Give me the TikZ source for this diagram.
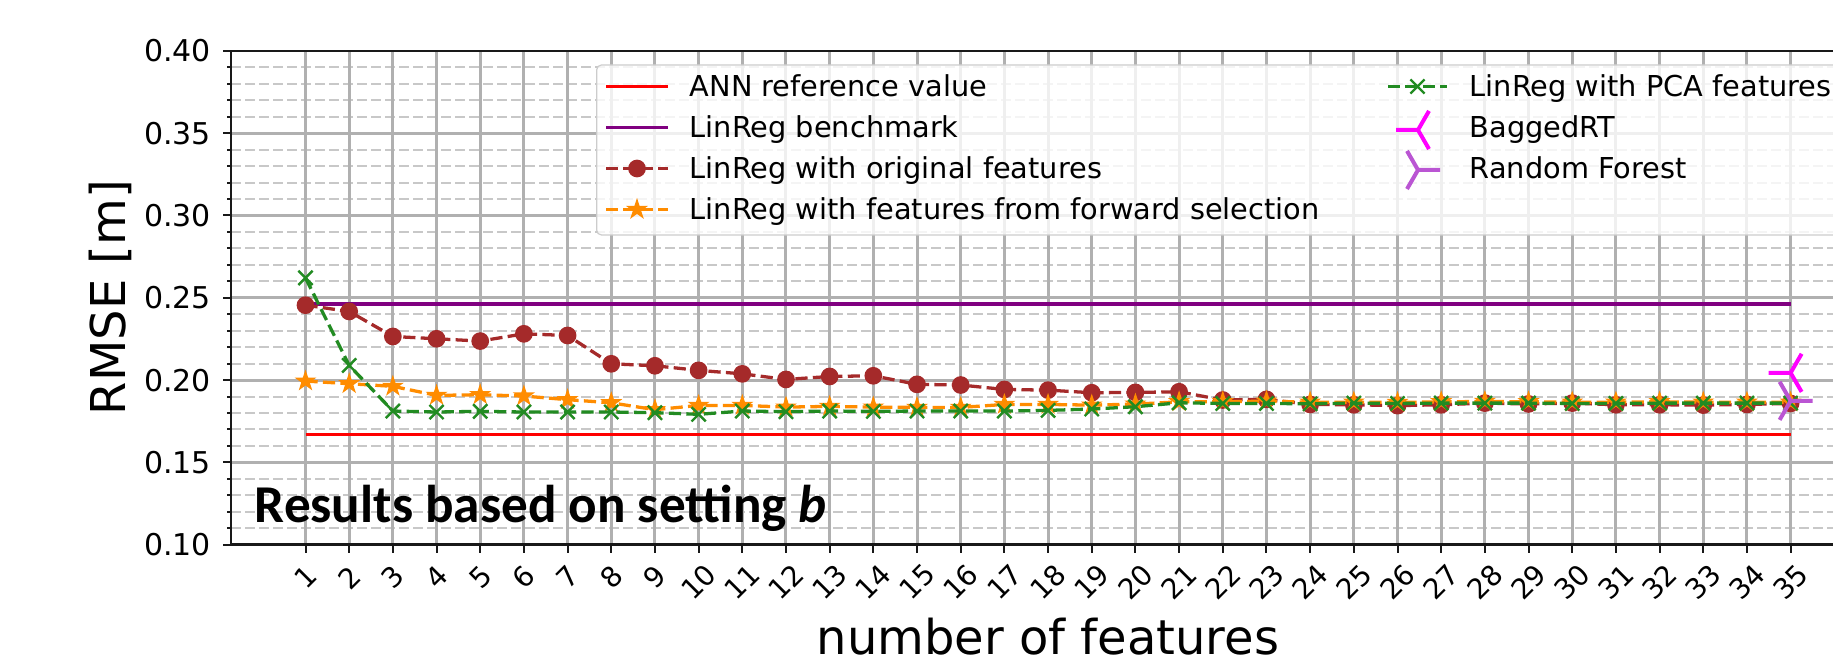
\documentclass[tikz,border=0pt]{standalone}
\usepackage{fontspec}
\setmainfont{DejaVu Sans}
\newfontfamily\notefont{Carlito}
\usepackage{tikz}
\usetikzlibrary{plotmarks}
\usepackage{xcolor}

\definecolor{annred}{HTML}{FF0000}
\definecolor{benchpurple}{HTML}{800080}
\definecolor{origbrown}{HTML}{A52A2A}
\definecolor{fwdorange}{HTML}{FF8C00}
\definecolor{pcagreen}{HTML}{228B22}
\definecolor{baggedmagenta}{HTML}{FF00FF}
\definecolor{rforchid}{HTML}{BA55D3}
\definecolor{gridgrey}{HTML}{B0B0B0}
\definecolor{minorgrey}{HTML}{C8C8C8}
\definecolor{frameedge}{HTML}{CCCCCC}

% filled five-pointed star and the two tri markers
\pgfdeclareplotmark{fivestar}{%
  \pgfpathmoveto{\pgfqpointpolar{90}{\pgfplotmarksize}}%
  \pgfpathlineto{\pgfqpointpolar{126}{0.382\pgfplotmarksize}}%
  \pgfpathlineto{\pgfqpointpolar{162}{\pgfplotmarksize}}%
  \pgfpathlineto{\pgfqpointpolar{198}{0.382\pgfplotmarksize}}%
  \pgfpathlineto{\pgfqpointpolar{234}{\pgfplotmarksize}}%
  \pgfpathlineto{\pgfqpointpolar{270}{0.382\pgfplotmarksize}}%
  \pgfpathlineto{\pgfqpointpolar{306}{\pgfplotmarksize}}%
  \pgfpathlineto{\pgfqpointpolar{342}{0.382\pgfplotmarksize}}%
  \pgfpathlineto{\pgfqpointpolar{18}{\pgfplotmarksize}}%
  \pgfpathlineto{\pgfqpointpolar{54}{0.382\pgfplotmarksize}}%
  \pgfpathclose\pgfusepathqfillstroke}
\pgfdeclareplotmark{trileft}{%
  \pgfpathmoveto{\pgfpointorigin}\pgfpathlineto{\pgfqpointpolar{180}{\pgfplotmarksize}}%
  \pgfpathmoveto{\pgfpointorigin}\pgfpathlineto{\pgfqpointpolar{60}{\pgfplotmarksize}}%
  \pgfpathmoveto{\pgfpointorigin}\pgfpathlineto{\pgfqpointpolar{300}{\pgfplotmarksize}}%
  \pgfusepathqstroke}
\pgfdeclareplotmark{triright}{%
  \pgfpathmoveto{\pgfpointorigin}\pgfpathlineto{\pgfqpointpolar{0}{\pgfplotmarksize}}%
  \pgfpathmoveto{\pgfpointorigin}\pgfpathlineto{\pgfqpointpolar{120}{\pgfplotmarksize}}%
  \pgfpathmoveto{\pgfpointorigin}\pgfpathlineto{\pgfqpointpolar{240}{\pgfplotmarksize}}%
  \pgfusepathqstroke}

\begin{document}
\begin{tikzpicture}[
  x=0.25pt, y=0.25pt,
  gridmajor/.style={gridgrey,line width=0.75pt},
  gridminor/.style={minorgrey,line width=0.5pt,dash pattern=on 2.5pt off 1pt},
  spine/.style={black!90,line width=0.6pt},
  tickmark/.style={black!90,line width=0.5pt},
  ticklabel/.style={inner sep=0pt,font=\fontsize{7.5}{9}\selectfont},
  xticklabel/.style={inner sep=0pt,rotate=45,font=\fontsize{7}{8.4}\selectfont},
  axislabel/.style={inner sep=0pt,font=\fontsize{12}{14}\selectfont},
  legtext/.style={anchor=base west,inner sep=0pt,font=\fontsize{7.2}{8.6}\selectfont},
  legframe/.style={draw=frameedge,line width=0.3pt,fill=white,fill opacity=0.8,rounded corners=1.2pt},
  solidline/.style={line width=0.82pt},
  seriesline/.style={line width=0.82pt,dash pattern=on 3.05pt off 1.32pt},
  annline/.style={solidline,annred},
  benchline/.style={solidline,benchpurple},
  origline/.style={seriesline,origbrown,mark=*,mark size=1.8pt,mark options={solid,fill=origbrown}},
  fwdline/.style={seriesline,fwdorange,mark=fivestar,mark size=2.4pt,mark options={solid,fill=fwdorange,line width=0.3pt}},
  pcaline/.style={seriesline,pcagreen,mark=x,mark size=2.5pt,mark options={solid,line width=0.6pt}},
  baggedmark/.style={baggedmagenta,line width=1pt,only marks,mark=trileft,mark size=5.5pt},
  rfmark/.style={rforchid,line width=1pt,only marks,mark=triright,mark size=5.5pt}
]
\useasboundingbox (0,0) rectangle (1833,661);
\clip (0,0) rectangle (1833,661);

% data axes: feature count along x, RMSE along y
\begin{scope}[shift={(65.455pt,-12.075pt)},x=10.92pt,y=411.5pt]
  % grid
  \foreach \m in {0,...,5}
    \foreach \n in {1,...,4}{
      \pgfmathsetmacro\yv{0.1+0.05*\m+0.01*\n}
      \draw[gridminor] (-0.7,\yv) -- (36.7,\yv);
      \draw[tickmark] (-0.7,\yv) -- ++(-1.1pt,0);
    }
  \foreach \yv in {0.15,0.2,0.25,0.3,0.35}
    \draw[gridmajor] (-0.7,\yv) -- (36.7,\yv);
  \foreach \n in {1,...,35}
    \draw[gridmajor] (\n,0.1) -- (\n,0.4);

  % reference lines
  \draw[annline] (1,0.1668) -- (35,0.1668);
  \draw[benchline] (1,0.2463) -- (35,0.2463);

  % series
  \draw[origline] plot coordinates {(1,0.2455) (2,0.2417) (3,0.2265) (4,0.2251) (5,0.2237)
    (6,0.2281) (7,0.2271) (8,0.2099) (9,0.2087) (10,0.2059) (11,0.2038) (12,0.2004)
    (13,0.2022) (14,0.2026) (15,0.1974) (16,0.1970) (17,0.1943) (18,0.1939) (19,0.1923)
    (20,0.1925) (21,0.1929) (22,0.1879) (23,0.1883) (24,0.1852) (25,0.1850) (26,0.1845)
    (27,0.1850) (28,0.1860) (29,0.1855) (30,0.1860) (31,0.1850) (32,0.1850) (33,0.1848)
    (34,0.1852) (35,0.1858)};
  \draw[fwdline] plot coordinates {(1,0.1994) (2,0.1978) (3,0.1962) (4,0.1907) (5,0.1911)
    (6,0.1903) (7,0.1881) (8,0.1862) (9,0.1820) (10,0.1846) (11,0.1846) (12,0.1836)
    (13,0.1840) (14,0.1836) (15,0.1834) (16,0.1834) (17,0.1852) (18,0.1852) (19,0.1848)
    (20,0.1854) (21,0.1868) (22,0.1868) (23,0.1872) (24,0.1866) (25,0.1866) (26,0.1864)
    (27,0.1868) (28,0.1870) (29,0.1868) (30,0.1866) (31,0.1866) (32,0.1868) (33,0.1866)
    (34,0.1866) (35,0.1866)};
  \draw[pcaline] plot coordinates {(1,0.2621) (2,0.2089) (3,0.1812) (4,0.1806) (5,0.1810)
    (6,0.1806) (7,0.1806) (8,0.1806) (9,0.1802) (10,0.1792) (11,0.1812) (12,0.1808)
    (13,0.1812) (14,0.1810) (15,0.1812) (16,0.1812) (17,0.1812) (18,0.1816) (19,0.1824)
    (20,0.1838) (21,0.1862) (22,0.1858) (23,0.1858) (24,0.1856) (25,0.1860) (26,0.1858)
    (27,0.1860) (28,0.1860) (29,0.1860) (30,0.1858) (31,0.1858) (32,0.1860) (33,0.1860)
    (34,0.1860) (35,0.1860)};
  \draw[baggedmark] plot coordinates {(35,0.2044)};
  \draw[rfmark] plot coordinates {(35,0.1874)};

  % spines, ticks, tick labels
  \draw[spine] (36.7,0.4) -- (-0.7,0.4) -- (-0.7,0.1) -- (36.7,0.1);
  \foreach \yv/\lab [count=\i] in {0.1/0.10,0.15/0.15,0.2/0.20,0.25/0.25,0.3/0.30,0.35/0.35,0.4/0.40}{
    \draw[tickmark] (-0.7,\yv) -- ++(-2pt,0);
    \node[ticklabel,anchor=east] (yt\i) at (-0.7,\yv) [xshift=-4.9pt] {\lab};
  }
  \foreach \n in {1,...,35}{
    \draw[tickmark] (\n,0.1) -- ++(0,-2pt);
    \pgfmathsetmacro\dropx{\n<10 ? -8.2 : -9.3}
    \node[yshift=\dropx pt,xticklabel] (xt\n) at (\n,0.1) {\n};
  }
\end{scope}

% axis labels and note
\node[axislabel,rotate=90,anchor=base] (ylab) at (125,363.4) {RMSE [m]};
\node[axislabel,anchor=base] (xlab) at (1048,6.4) {number of features};
\node[anchor=base west,inner sep=0pt,font=\notefont\bfseries\fontsize{13.3}{15.5}\selectfont] (setting) at (254,138) {Results based on setting \textit{b}};

% legend
\draw[legframe] (596.7,426) rectangle (1900,596);
\draw[annline] (606,574.5) -- (668,574.5);
\node[legtext] (legann) at (689,564) {ANN reference value};
\draw[benchline] (606,533.5) -- (668,533.5);
\node[legtext] (legbench) at (689,523) {LinReg benchmark};
\draw[origline,mark indices={2}] plot coordinates {(606,492.5) (637,492.5) (668,492.5)};
\node[legtext] (legorig) at (689,482) {LinReg with original features};
\draw[fwdline,mark indices={2}] plot coordinates {(606,451.5) (637,451.5) (668,451.5)};
\node[legtext] (legfwd) at (689,441) {LinReg with features from forward selection};
\draw[pcaline,mark indices={2}] plot coordinates {(1388,574.5) (1417.5,574.5) (1447,574.5)};
\node[legtext] (legpca) at (1469,564) {LinReg with PCA features};
\draw[baggedmark] plot coordinates {(1418,531)};
\node[legtext] (legbagged) at (1469,523) {BaggedRT};
\draw[rfmark] plot coordinates {(1418,491)};
\node[legtext] (legrf) at (1469,482) {Random Forest};
\end{tikzpicture}
\end{document}
